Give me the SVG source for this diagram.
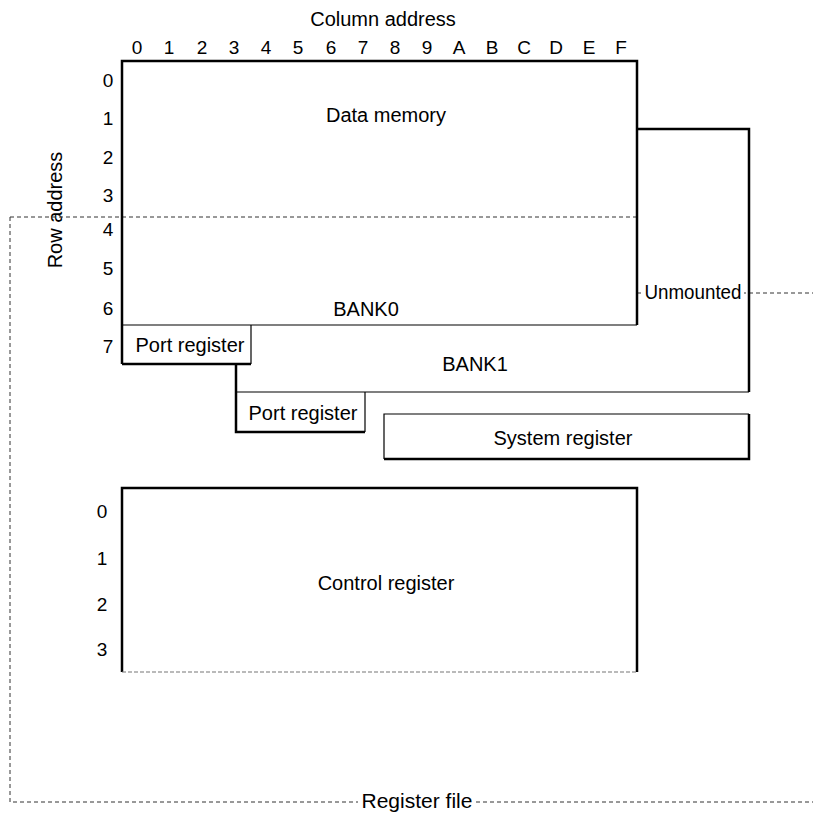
<svg xmlns="http://www.w3.org/2000/svg" width="813" height="816" viewBox="0 0 813 816">
<style>
text{font-family:"Liberation Sans",Arial,sans-serif;font-size:20px;fill:#000;text-anchor:middle}
.d{font-size:19px}
.thick{fill:none;stroke:#000;stroke-width:2.5}
.thin{fill:none;stroke:#000;stroke-width:1.2}
.dash{fill:none;stroke:#333;stroke-width:1;stroke-dasharray:4 3}
.gdash{fill:none;stroke:#777;stroke-width:1.2;stroke-dasharray:4 2}
</style>
<rect width="813" height="816" fill="#fff"/>
<g id="axes">
<text x="383" y="26">Column address</text>
<g id="cols">
<text class="d" x="137" y="54">0</text><text class="d" x="169" y="54">1</text><text class="d" x="202" y="54">2</text><text class="d" x="234" y="54">3</text>
<text class="d" x="266" y="54">4</text><text class="d" x="298" y="54">5</text><text class="d" x="331" y="54">6</text><text class="d" x="363" y="54">7</text>
<text class="d" x="395" y="54">8</text><text class="d" x="427" y="54">9</text><text class="d" x="459" y="54">A</text><text class="d" x="492" y="54">B</text>
<text class="d" x="524" y="54">C</text><text class="d" x="556" y="54">D</text><text class="d" x="589" y="54">E</text><text class="d" x="621" y="54">F</text>
</g>
<g id="rows">
<text class="d" x="108" y="87">0</text><text class="d" x="108" y="125">1</text><text class="d" x="108" y="164">2</text><text class="d" x="108" y="202">3</text>
<text class="d" x="108" y="236">4</text><text class="d" x="108" y="275">5</text><text class="d" x="108" y="315">6</text><text class="d" x="108" y="353">7</text>
</g>
<text transform="translate(62,210) rotate(-90)">Row address</text>
</g>
<g id="connectors">
<path class="dash" d="M10,217 H637 M10,217 V802 H358 M476,802 H813"/>
<path class="dash" d="M637,293 H813"/>
<rect x="643" y="283" width="101" height="19" fill="#fff"/>
</g>
<g id="data-memory">
<path class="thick" d="M122,364 V61 H637 V325"/>
<path class="thin" d="M122,325 H637"/>
<text x="386" y="122">Data memory</text>
<text x="366" y="316">BANK0</text>
</g>
<g id="port-register-0">
<path class="thin" d="M251,325 V364"/>
<path class="thick" d="M122,364 H251"/>
<text x="190" y="352">Port register</text>
</g>
<g id="bank1">
<path class="thick" d="M637,129 H749 V392"/>
<path class="thick" d="M236,364 V392"/>
<path class="thin" d="M236,392 H749"/>
<text x="475" y="371">BANK1</text>
</g>
<g id="unmounted">
<text x="693" y="299" textLength="97" lengthAdjust="spacingAndGlyphs">Unmounted</text>
</g>
<g id="port-register-1">
<path class="thick" d="M236,392 V432 H365"/>
<path class="thin" d="M365,392 V432"/>
<text x="303" y="420">Port register</text>
</g>
<g id="system-register">
<path class="thin" d="M384,459 V414 H749"/>
<path class="thick" d="M384,459 H749 V414"/>
<text x="563" y="445">System register</text>
</g>
<g id="control-register">
<path class="thick" d="M122,672 V488 H637 V672"/>
<path class="gdash" d="M122,672 H637"/>
<text x="386" y="590">Control register</text>
<text class="d" x="102" y="518">0</text><text class="d" x="102" y="565">1</text><text class="d" x="102" y="611">2</text><text class="d" x="102" y="656">3</text>
</g>
<g id="register-file">
<text x="417" y="808" textLength="111" lengthAdjust="spacingAndGlyphs">Register file</text>
</g>
</svg>
